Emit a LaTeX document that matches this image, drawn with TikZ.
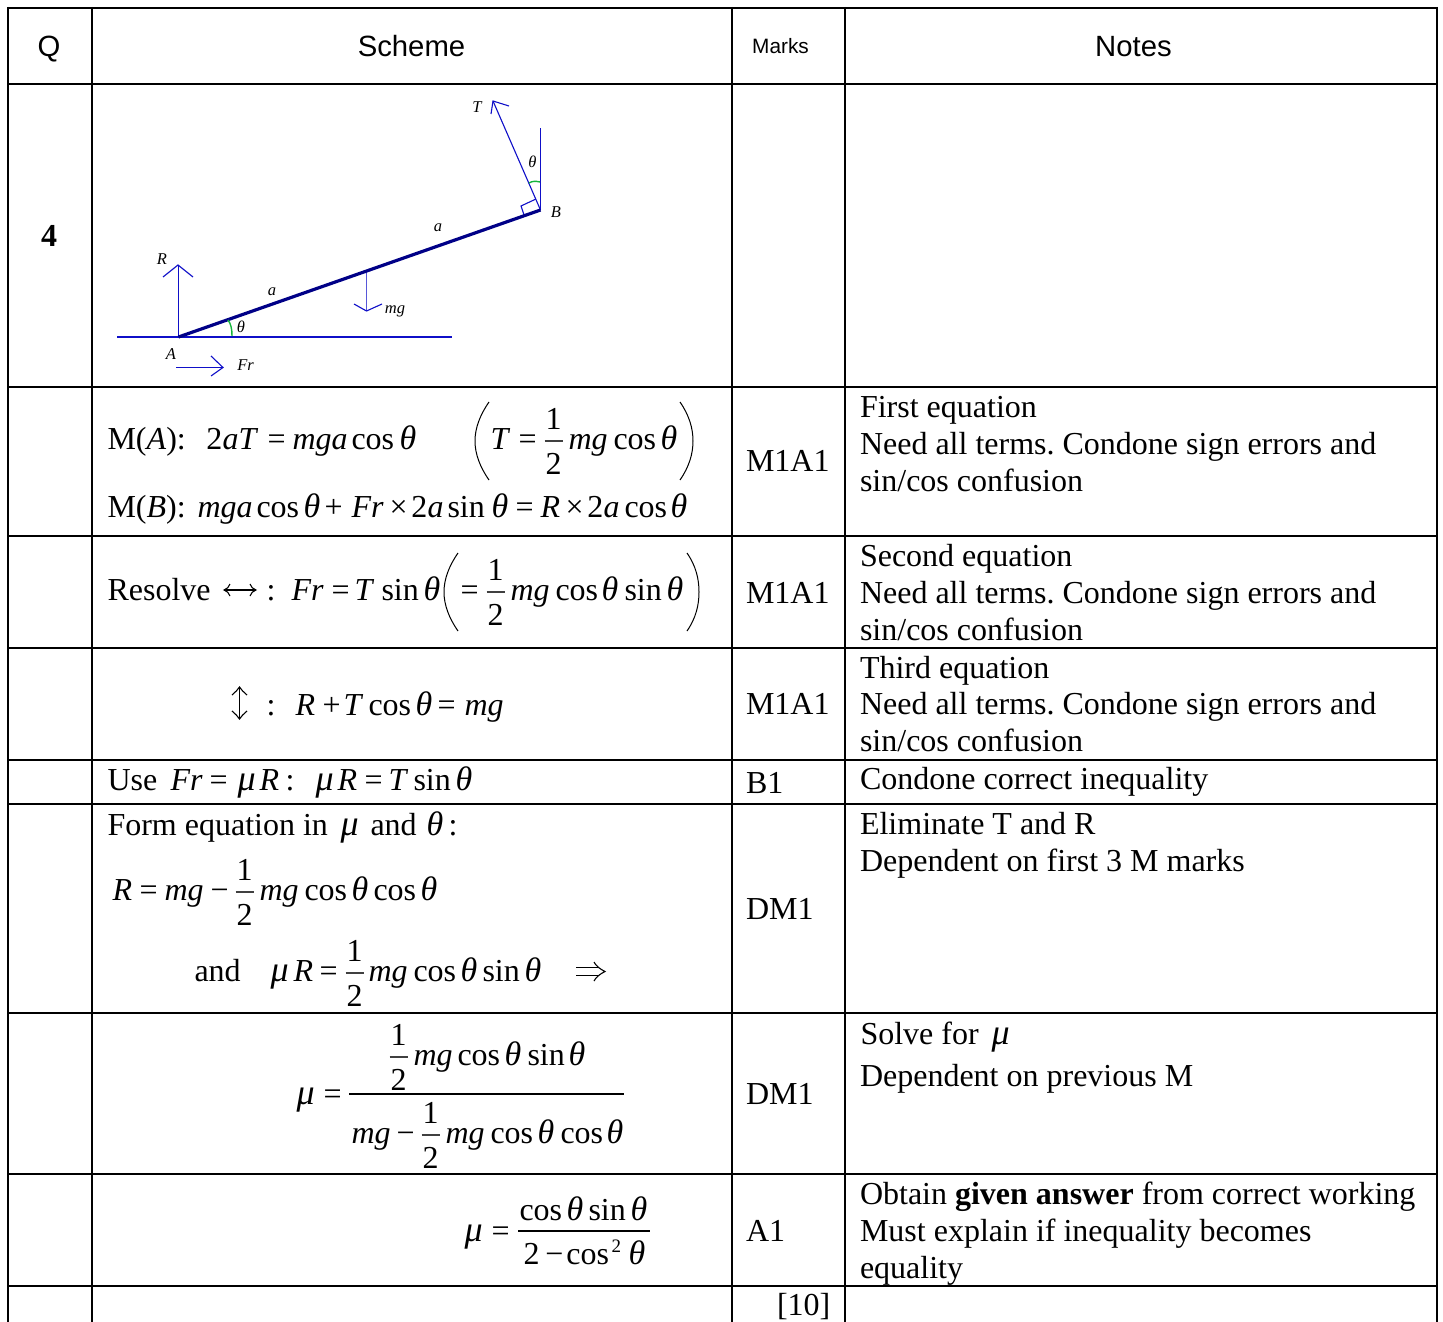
\documentclass[tikz,border=0pt]{standalone}
\usepackage{fontspec}
\setmainfont{Liberation Serif}
\newfontfamily\hdfont{Liberation Sans}
\frenchspacing
\newcommand{\mi}[1]{\textit{#1}}
\newcommand{\thetaI}{{\fontsize{34}{36}\selectfont\textit{θ}}}
\newcommand{\muI}{{\fontsize{36}{36}\selectfont\textit{μ}}}
% piece of a line at absolute picture x; \orig is the x of the line's node
\newcommand{\px}[2]{\rlap{\kern\dimexpr #1pt-\orig pt\relax #2}}
\newcommand{\hfr}[1]{\px{#1}{\rlap{\raise20pt\hbox to 18pt{\hss 1\hss}}\rlap{\raise-25pt\hbox to 18pt{\hss 2\hss}}\raise8pt\hbox{\color{black!75}\vrule width 18pt height .6pt depth .6pt}}}
\definecolor{dgblue}{RGB}{15,15,200}
\definecolor{dgrod}{RGB}{0,0,135}
\definecolor{dggreen}{RGB}{20,180,60}
\tikzset{
  grid/.style={line width=2pt,black},
  txt/.style={anchor=base west,inner sep=0pt,outer sep=0pt,font=\fontsize{32}{36}\selectfont},
  hd/.style={anchor=base,inner sep=0pt,font=\fontsize{29.3}{34}\hdfont},
  lab/.style={anchor=center,inner sep=0pt,font=\fontsize{16.5}{18}\selectfont\itshape},
  force/.style={line width=1.1pt,color=dgblue},
  rod/.style={line width=3.2pt,color=dgrod},
  ang/.style={line width=1.4pt,color=dggreen},
  bigp/.style={line width=1pt,black},
  sym/.style={line width=1.1pt,black}
}
\begin{document}
\begin{tikzpicture}[x=1pt,y=-1pt]
\useasboundingbox (0,0) rectangle (1443,1322);
% grid
\foreach \x in {8,92,732,845,1437} \draw[grid] (\x,7) -- (\x,1322);
\foreach \y in {8,84,387,536,648,760,804,1013,1174,1286} \draw[grid] (7,\y) -- (1438,\y);
% headers
\node[hd] (hq) at (49,57) {Q};
\node[hd] (hs) at (411.5,57) {Scheme};
\node[hd,font=\fontsize{20.8}{24}\hdfont] (hm) at (780.5,53.5) {Marks};
\node[hd] (hn) at (1133.5,57) {Notes};
\node[txt,anchor=center,font=\fontsize{32}{36}\selectfont\bfseries] (q4) at (49,236) {4};
% diagram
\coordinate (A) at (178.5,337); \coordinate (B) at (540.5,210);
\draw[force] (117,337) -- (452,337);
\draw[force] (A) -- (178.5,265);
\draw[force] (163,277) -- (178,265) -- (193,277);
\draw[force] (B) -- (493,101);
\draw[force] (491,114) -- (493,101) -- (509,106);
\draw[force] (B) -- (540.5,128);
\draw[force] (536,199) -- (521,206) -- (524,215);
\draw[force,color=dgblue!70] (366.5,270) -- (366.5,311);
\draw[force] (354,304) -- (366.5,311) -- (382,304);
\draw[force] (176,367.5) -- (223,367.5);
\draw[force] (211,356) -- (223,367.5) -- (211,376);
\draw[rod] (A) -- (B);
\draw[ang] (232,336) .. controls (232,329) and (231,324) .. (228,320);
\draw[ang] (529,183) .. controls (532,181) and (536,181) .. (540,182);
\node[lab] (lT) at (477,107) {T};
\node[lab] (lth1) at (532.5,162) {θ};
\node[lab] (lB) at (556,212) {B};
\node[lab] (la1) at (438,228) {a};
\node[lab] (lR) at (162,259) {R};
\node[lab] (la2) at (272,292) {a};
\node[lab] (lmg) at (395,311) {mg};
\node[lab] (lth2) at (241,327) {θ};
\node[lab] (lA) at (171,354) {A};
\node[lab] (lFr) at (245.5,365) {Fr};
% row M(A)
\def\orig{107}
\node[txt] (s1) at (107,449) {\px{107}{M(\mi{A}):}\px{206}{2\mi{aT}}\px{267}{=}\px{292}{\mi{mga}}\px{351}{cos}\px{399}{\thetaI}\px{490}{\mi{T}}\px{518}{=}\hfr{544}\px{568}{\mi{mg}}\px{613}{cos}\px{660}{\thetaI}};
\draw[bigp] (489,402) .. controls (480,415) and (475,428) .. (475,441) .. controls (475,454) and (480,467) .. (489,480);
\draw[bigp] (680,402) .. controls (689,415) and (693,428) .. (693,441) .. controls (693,454) and (689,467) .. (680,480);
\node[txt] (s2) at (107,517) {\px{107}{M(\mi{B}):}\px{197}{\mi{mga}}\px{256}{cos}\px{303}{\thetaI}\px{324}{+}\px{351}{\mi{Fr}}\px{389}{×}\px{411}{2\mi{a}}\px{447}{sin}\px{491}{\thetaI}\px{515}{=}\px{540}{\mi{R}}\px{565}{×}\px{587}{2\mi{a}}\px{624}{cos}\px{670}{\thetaI}};
% row resolve
\node[txt] (s3) at (107,600) {\px{107}{Resolve}\px{266}{:}\px{291}{\mi{Fr}}\px{331}{=}\px{354}{\mi{T}}\px{381}{sin}\px{423}{\thetaI}\px{460}{=}\hfr{486}\px{510}{\mi{mg}}\px{555}{cos}\px{601}{\thetaI}\px{624}{sin}\px{666}{\thetaI}};
\coordinate (ha) at (224,590); \coordinate (hb) at (256,590);
\draw[sym] (ha) -- (hb);
\draw[sym] (230,584) .. controls (229,587) and (227,589) .. (ha) .. controls (227,591) and (229,593) .. (230,596);
\draw[sym] (250,584) .. controls (251,587) and (253,589) .. (hb) .. controls (253,591) and (251,593) .. (250,596);
\draw[bigp] (458,553) .. controls (449,566) and (444,579) .. (444,592) .. controls (444,605) and (449,618) .. (458,631);
\draw[bigp] (687,553) .. controls (696,566) and (699,579) .. (699,592) .. controls (699,605) and (696,618) .. (687,631);
% row vertical
\coordinate (ua) at (239.5,687); \coordinate (ub) at (239.5,719);
\draw[sym] (ua) -- (ub);
\draw[sym] (232,695) .. controls (235,692) and (238,690) .. (ua) .. controls (241,690) and (244,692) .. (247,695);
\draw[sym] (232,711) .. controls (235,714) and (238,716) .. (ub) .. controls (241,716) and (244,714) .. (247,711);
\node[txt] (s4) at (107,715) {\px{266}{:}\px{295}{\mi{R}}\px{322}{+}\px{343}{\mi{T}}\px{368}{cos}\px{415}{\thetaI}\px{437}{=}\px{464}{\mi{mg}}};
% row B1
\node[txt] (s5) at (107,790) {\px{107}{Use}\px{170}{\mi{Fr}}\px{209}{=}\px{237}{\muI}\px{259}{\mi{R}}\px{285}{:}\px{315}{\muI}\px{337}{\mi{R}}\px{364}{=}\px{388}{\mi{T}}\px{413}{sin}\px{455}{\thetaI}};
% row DM1
\node[txt] (s6) at (107,835) {\px{107}{Form equation in}\px{340}{\muI}\px{370}{and}\px{426}{\thetaI}\px{448}{:}};
\node[txt] (s7) at (107,900) {\px{112}{\mi{R}}\px{139}{=}\px{164}{\mi{mg}}\px{210}{−}\hfr{235}\px{259}{\mi{mg}}\px{304}{cos}\px{351}{\thetaI}\px{373}{cos}\px{420}{\thetaI}};
\node[txt] (s8) at (107,981) {\px{194}{and}\px{270}{\muI}\px{293}{\mi{R}}\px{319}{=}\hfr{345}\px{368}{\mi{mg}}\px{413}{cos}\px{460}{\thetaI}\px{482}{sin}\px{524}{\thetaI}};
\coordinate (ia) at (576,967.5); \coordinate (ib) at (576,975.5);
\draw[sym] (ia) -- (598,967.5); \draw[sym] (ib) -- (598,975.5);
\draw[sym] (594,962) .. controls (596,966) and (600,969) .. (605,971.5) .. controls (600,974) and (596,977) .. (594,981);
% row mu fraction
\node[txt] (s9) at (107,1104) {\px{296}{\muI}\px{323}{=}};
\draw[line width=1.3pt] (349,1094) -- (624,1094);
\node[txt] (s9a) at (107,1065) {\hfr{389}\px{413}{\mi{mg}}\px{457}{cos}\px{504}{\thetaI}\px{527}{sin}\px{568}{\thetaI}};
\node[txt] (s9b) at (107,1143) {\px{351}{\mi{mg}}\px{396}{−}\hfr{421}\px{445}{\mi{mg}}\px{490}{cos}\px{537}{\thetaI}\px{560}{cos}\px{606}{\thetaI}};
% row final
\node[txt] (s10) at (107,1241) {\px{464}{\muI}\px{491}{=}};
\draw[line width=1.3pt] (518,1231) -- (650,1231);
\node[txt] (s10a) at (107,1220) {\px{519}{cos}\px{566}{\thetaI}\px{588}{sin}\px{630}{\thetaI}};
\node[txt] (s10b) at (107,1264) {\px{523}{2}\px{545}{−}\px{566}{cos}\px{611}{\raise12pt\hbox{\fontsize{19}{20}\selectfont 2}}\px{628}{\thetaI}};
% marks
\node[txt] (m1) at (746,471) {M1A1};
\node[txt] (m2) at (746,603) {M1A1};
\node[txt] (m3) at (746,714) {M1A1};
\node[txt] (m4) at (746,793) {B1};
\node[txt] (m5) at (746,919) {DM1};
\node[txt] (m6) at (746,1104) {DM1};
\node[txt] (m7) at (746,1241) {A1};
\node[txt] (m8) at (777,1315) {[10]};
% notes
\node[txt] (n1) at (860,417) {First equation};
\node[txt] (n2) at (860,454) {Need all terms. Condone sign errors and};
\node[txt] (n3) at (860,491) {sin/cos confusion};
\node[txt] (n4) at (860,566) {Second equation};
\node[txt] (n5) at (860,603) {Need all terms. Condone sign errors and};
\node[txt] (n6) at (860,640) {sin/cos confusion};
\node[txt] (n7) at (860,678) {Third equation};
\node[txt] (n8) at (860,714) {Need all terms. Condone sign errors and};
\node[txt] (n9) at (860,751) {sin/cos confusion};
\node[txt] (n10) at (860,789) {Condone correct inequality};
\node[txt] (n11) at (860,834) {Eliminate T and R};
\node[txt] (n12) at (860,871) {Dependent on first 3 M marks};
\def\orig{860}
\node[txt] (n13) at (860,1044) {\px{860}{Solve for}\px{991}{\muI}};
\node[txt] (n14) at (860,1086) {Dependent on previous M};
\node[txt] (n15) at (860,1204) {Obtain \textbf{given answer} from correct working};
\node[txt] (n16) at (860,1241) {Must explain if inequality becomes};
\node[txt] (n17) at (860,1278) {equality};
\end{tikzpicture}
\end{document}
